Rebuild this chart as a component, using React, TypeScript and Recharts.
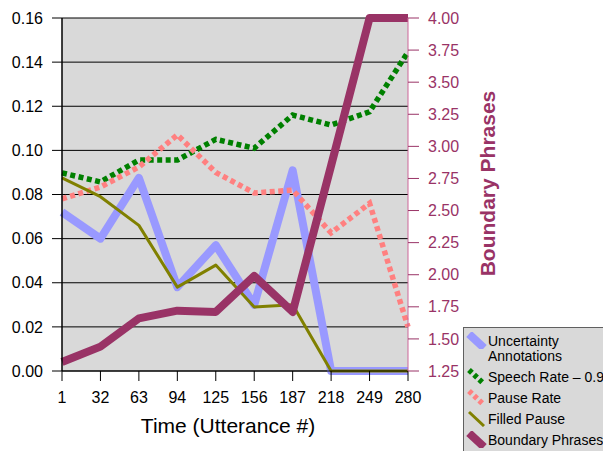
import { LineChart, Line, XAxis, YAxis, CartesianGrid, Legend } from 'recharts';

// Values
const utterances = ['1', '32', '63', '94', '125', '156', '187', '218', '249', '280'];
const uncertainty = [0.072, 0.06, 0.0875, 0.038, 0.057, 0.03, 0.091, 0, 0, 0];
const speechRate = [0.0898, 0.0857, 0.0956, 0.0956, 0.105, 0.101, 0.116, 0.1115, 0.1175, 0.1446];
const pauseRate = [0.078, 0.0834, 0.0925, 0.107, 0.09, 0.0807, 0.082, 0.0626, 0.076, 0.02];
const filledPause = [0.0875, 0.079, 0.066, 0.038, 0.048, 0.029, 0.03, 0, 0, 0];
const boundaryPhrases = [1.32, 1.44, 1.66, 1.72, 1.71, 1.99, 1.71, 2.85, 4.0, 4.0];

const leftTicks = [0, 0.02, 0.04, 0.06, 0.08, 0.1, 0.12, 0.14, 0.16];
const rightTicks = [1.25, 1.5, 1.75, 2.0, 2.25, 2.5, 2.75, 3.0, 3.25, 3.5, 3.75, 4.0];

const data = utterances.map((t, i) => ({
  t,
  uncertainty: uncertainty[i],
  speechRate: speechRate[i],
  pauseRate: pauseRate[i],
  filledPause: filledPause[i],
  boundary: boundaryPhrases[i],
}));

const SERIES = [
  { key: 'uncertainty', name: 'Uncertainty Annotations', color: '#9999FF', width: 8, dash: undefined, axis: 'left' },
  { key: 'speechRate', name: 'Speech Rate \u2013 0.9', color: '#008000', width: 5.5, dash: '5 3.5', axis: 'left' },
  { key: 'pauseRate', name: 'Pause Rate', color: '#FF8080', width: 5.5, dash: '5 3.5', axis: 'left' },
  { key: 'filledPause', name: 'Filled Pause', color: '#808000', width: 3, dash: undefined, axis: 'left' },
  { key: 'boundary', name: 'Boundary Phrases', color: '#993366', width: 8, dash: undefined, axis: 'right' },
];

const PURPLE = '#993366';

function LegendBox() {
  return (
    <div
      style={{
        background: '#D9D9D9',
        border: '1px solid #606060',
        padding: '6px 0 10px 1px',
        width: 160,
        fontSize: 14,
        lineHeight: '15px',
        color: '#000',
      }}
    >
      {SERIES.map((s, i) => (
        <div key={s.key} style={{ display: 'flex', alignItems: 'flex-start', marginTop: i === 0 ? 0 : 6 }}>
          <svg width={23} height={17} style={{ flex: 'none', marginTop: -2 }}>
            <line
              x1={4}
              y1={2}
              x2={19}
              y2={16}
              stroke={s.color}
              strokeWidth={s.width}
              strokeDasharray={s.dash ? '4 3' : undefined}
            />
          </svg>
          <span style={{ width: s.key === 'uncertainty' ? 100 : 140 }}>{s.name}</span>
        </div>
      ))}
    </div>
  );
}

function RightAxisTitle(props: any) {
  const { viewBox } = props;
  const x = viewBox.x + viewBox.width + 9;
  const y = viewBox.y + viewBox.height / 2 - 11;
  return (
    <text
      x={x}
      y={y}
      transform={`rotate(-90, ${x}, ${y})`}
      textAnchor="middle"
      dominantBaseline="central"
      fill={PURPLE}
      fontSize={21}
      fontWeight="bold"
    >
      Boundary Phrases
    </text>
  );
}

export default function App() {
  return (
    <div
      style={{
        position: 'absolute',
        left: 0,
        top: 0,
        width: 603,
        height: 451,
        overflow: 'hidden',
        background: '#fff',
        fontFamily: '"Liberation Sans", Arial, sans-serif',
      }}
    >
      <LineChart width={603} height={451} data={data} margin={{ top: 18, right: 125, left: 0, bottom: 0 }}>
        <CartesianGrid yAxisId="left" vertical={false} stroke="#000" fill="#D9D9D9" fillOpacity={1} />
        <XAxis
          dataKey="t"
          height={80}
          stroke="#000"
          tickSize={10}
          tickMargin={11}
          tick={{ fill: '#000', fontSize: 16 }}
          interval={0}
          label={{ value: 'Time (Utterance #)', position: 'insideBottom', offset: 18, dx: -7, fill: '#000', fontSize: 21 }}
        />
        <YAxis
          yAxisId="left"
          width={62}
          domain={[0, 0.16]}
          ticks={leftTicks}
          interval={0}
          stroke="#000"
          axisLine={{ stroke: '#000', strokeWidth: 1.5 }}
          tickSize={10}
          tickMargin={9}
          tick={{ fill: '#000', fontSize: 16 }}
          tickFormatter={(v: number) => v.toFixed(2)}
        />
        <YAxis
          yAxisId="right"
          orientation="right"
          width={70}
          domain={[1.25, 4]}
          ticks={rightTicks}
          interval={0}
          axisLine={{ stroke: '#CC6699' }}
          tickLine={{ stroke: PURPLE }}
          tickSize={11}
          tickMargin={9}
          tick={{ fill: PURPLE, fontSize: 16 }}
          tickFormatter={(v: number) => v.toFixed(2)}
          label={<RightAxisTitle />}
        />
        <Legend
          layout="vertical"
          align="center"
          verticalAlign="middle"
          wrapperStyle={{ left: 463, top: 327, width: 160 }}
          content={() => <LegendBox />}
        />
        {SERIES.map((s) => (
          <Line
            key={s.key}
            yAxisId={s.axis}
            dataKey={s.key}
            name={s.name}
            type="linear"
            stroke={s.color}
            strokeWidth={s.width}
            strokeDasharray={s.dash}
            strokeLinejoin={s.dash ? 'miter' : 'round'}
            dot={false}
            activeDot={false}
            isAnimationActive={false}
          />
        ))}
      </LineChart>
    </div>
  );
}
